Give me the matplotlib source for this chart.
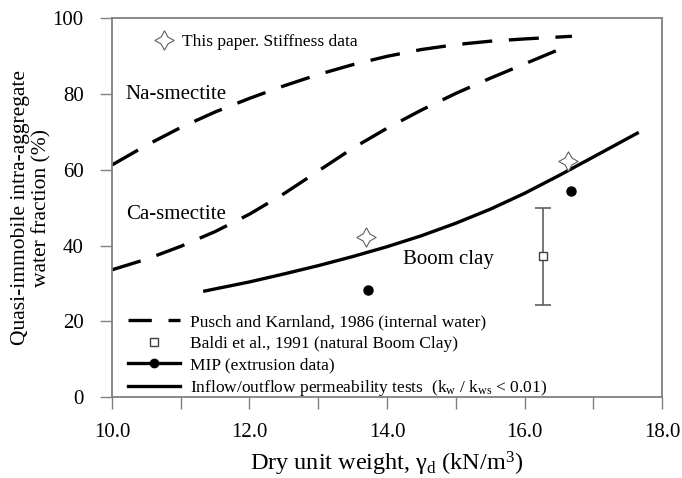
import numpy as np
import matplotlib
matplotlib.use("Agg")
import matplotlib.pyplot as plt
from matplotlib.lines import Line2D

plt.rcParams['font.family'] = ['Liberation Serif', 'DejaVu Serif']
plt.rcParams['mathtext.fontset'] = 'custom'
plt.rcParams['mathtext.rm'] = 'Liberation Serif'
plt.rcParams['mathtext.it'] = 'Liberation Serif:italic'

# Pusch and Karnland (1986) curves
na_x = [10.0, 10.5, 11.0, 11.5, 12.0, 12.5, 13.0, 13.5, 14.0, 14.5, 15.0, 15.5, 16.0, 16.69]
na_y = [61.3, 66.5, 71.2, 75.3, 78.9, 82.2, 85.2, 87.8, 90.0, 91.8, 93.1, 94.0, 94.6, 95.3]
ca_x = [10.0, 10.5, 11.0, 11.5, 12.0, 12.5, 13.0, 13.5, 14.0, 14.5, 15.0, 15.5, 16.0, 16.66]
ca_y = [33.6, 36.4, 39.8, 43.7, 48.3, 53.7, 59.7, 65.7, 71.0, 75.8, 80.2, 84.2, 88.0, 93.0]

# permeability tests (Boom clay)
boom_x = [11.35, 12.0, 12.5, 13.0, 13.5, 14.0, 14.5, 15.0, 15.5, 16.0, 16.5, 17.0, 17.64]
boom_y = [28.0, 30.4, 32.5, 34.7, 37.1, 39.7, 42.6, 45.9, 49.6, 53.8, 58.5, 63.4, 69.7]

# stiffness data
star_x = [13.69, 16.63]
star_y = [42.3, 62.4]

# MIP
mip_x = [13.73, 16.67]
mip_y = [28.3, 54.3]

# Baldi et al. 1991
baldi_x = [16.27]
baldi_y = [37.2]
baldi_lo = [24.3]
baldi_hi = [49.9]

fig = plt.figure(figsize=(6.82, 4.78), dpi=100)
ax = fig.add_axes([0.1642, 0.1695, 0.8065, 0.7918])

dash = (9, 5)
lw = 2.4
ax.plot(na_x, na_y, color='black', lw=lw, dashes=dash)
ax.plot(ca_x, ca_y, color='black', lw=lw, dashes=dash)
ax.plot(boom_x, boom_y, color='black', lw=lw)
ax.plot(mip_x, mip_y, 'o', color='black', ms=6.5, ls='none')
err = [np.array(baldi_y) - np.array(baldi_lo), np.array(baldi_hi) - np.array(baldi_y)]
ax.errorbar(baldi_x, baldi_y, yerr=err, fmt='s', mfc='white', mec='#404040', ms=6,
            ecolor='#606060', elinewidth=1.2, capsize=6, capthick=1.2)
ax.plot(star_x, star_y, marker=(4, 1, 0), ms=14, mfc='white', mec='#606060', mew=0.8, ls='none')

ax.text(10.2, 78.7, 'Na-smectite', fontsize=15)
ax.text(10.2, 47, 'Ca-smectite', fontsize=15)
ax.text(14.23, 35.2, 'Boom clay', fontsize=15)

ax.set_xlim(10, 18)
ax.set_ylim(0, 100)
ax.set_xticks(np.arange(10, 18.1, 2))
ax.set_xticklabels(['10.0', '12.0', '14.0', '16.0', '18.0'])
ax.set_xticks(np.arange(11, 18, 2), minor=True)
ax.set_yticks(np.arange(0, 101, 20))
for s in ax.spines.values():
    s.set_color('#808080')
    s.set_linewidth(1.3)
ax.tick_params(which='both', direction='out', length=8.5, width=1.0, color='#808080',
               labelsize=15, top=False, right=False)
ax.tick_params(axis='x', pad=10)
ax.tick_params(axis='y', pad=12)

ax.set_xlabel('Dry unit weight, γ$_\\mathregular{d}$ (kN/m$^\\mathregular{3}$)', fontsize=17.5, labelpad=6)
ax.set_ylabel('Quasi-immobile intra-aggregate\nwater fraction (%)', fontsize=15.5, labelpad=1,
              linespacing=1.1)

star_h = [Line2D([], [], marker=(4, 1, 0), ms=14, mfc='white', mec='#606060', mew=0.8, ls='none')]
leg1 = ax.legend(star_h, ['This paper. Stiffness data'], loc='upper left', frameon=False,
                 fontsize=12.5, bbox_to_anchor=(0.035, 1.0), handletextpad=0.0)
ax.add_artist(leg1)

handles = [
    Line2D([], [], color='black', lw=lw, dashes=(7, 5)),
    Line2D([], [], marker='s', mfc='white', mec='#404040', ms=6, ls='none'),
    Line2D([], [], color='black', lw=lw, marker='o', ms=6),
    Line2D([], [], color='black', lw=lw),
]
labels = [
    'Pusch and Karnland, 1986 (internal water)',
    'Baldi et al., 1991 (natural Boom Clay)',
    'MIP (extrusion data)',
    'Inflow/outflow permeability tests  (k$_\\mathregular{w}$ / k$_\\mathregular{ws}$ < 0.01)',
]
ax.legend(handles, labels, loc='lower left', frameon=False, fontsize=12.5,
          handlelength=3.0, labelspacing=0.3, handletextpad=0.6,
          bbox_to_anchor=(0.0, -0.045))

fig.savefig('out.png', dpi=100)
